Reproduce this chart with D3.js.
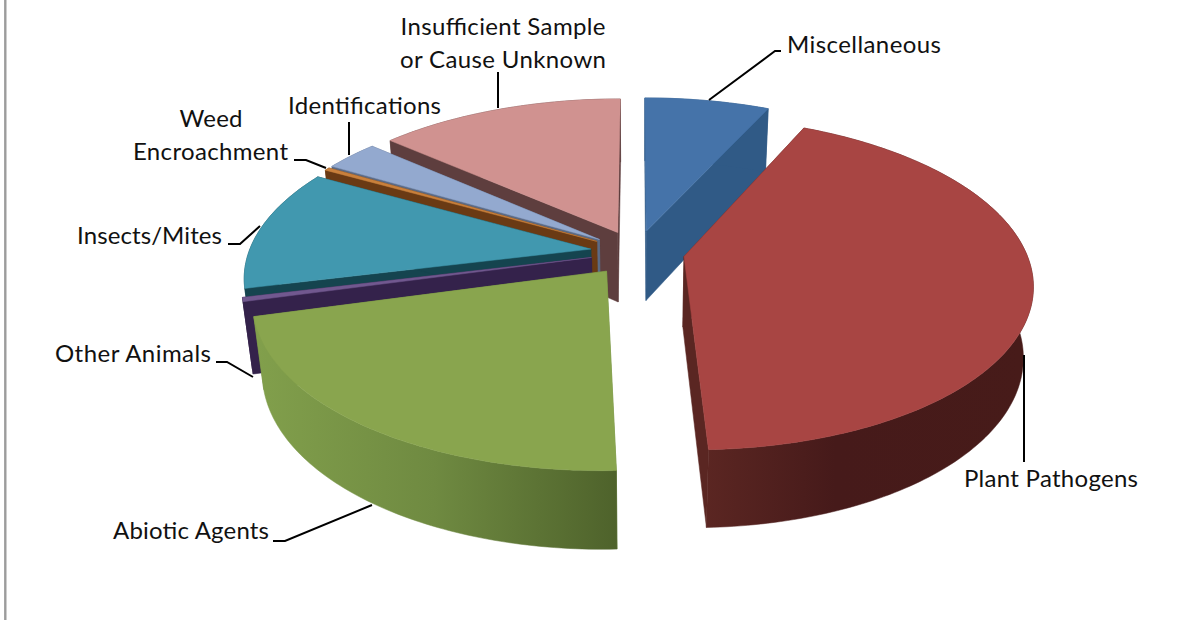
<!DOCTYPE html>
<html>
<head>
<meta charset="utf-8">
<script src="https://cdn.jsdelivr.net/npm/d3@7/dist/d3.min.js"></script>
<style>
  html, body { margin: 0; background: #fff; }
  text { font-family: Lato, "Open Sans", sans-serif; font-size: 24px; fill: #111; }
</style>
</head>
<body>
<svg id="chart" width="1178" height="620"></svg>
<script>
// Share of samples by diagnosis, percent, clockwise from twelve o'clock.
const categories = ["Miscellaneous", "Plant Pathogens", "Abiotic Agents", "Other Animals",
                    "Insects/Mites", "Weed Encroachment", "Identifications",
                    "Insufficient Sample or Cause Unknown"];
const shares = [6.9, 42.5, 21.4, 0.4, 11.9, 0.3, 3.0, 13.6];
// How far each slice is pulled away from the centre, as a fraction of the radius.
const pullOut = [0.135, 0.141, 0.145, 0.135, 0.135, 0.135, 0.135, 0.135];

const topColors  = ["#4573a9", "#a84543", "#89a54e", "#71588f", "#4198af", "#c9803c", "#93a9cf", "#d09290"];
const sideColors = ["#305a86", "#5a2622", "#6f8a40", "#34224b", "#15444f", "#6a3a14", "#5b6a85", "#5e3e3e"];

// Label lines: text, anchor x, baseline y, anchor mode, set width.
const labelLines = [
  ["Miscellaneous", 787, 53, "start", 154],
  ["Plant Pathogens", 964, 487, "start", 174],
  ["Abiotic Agents", 113, 539, "start", 156],
  ["Other Animals", 55, 362, "start", 156],
  ["Insects/Mites", 77, 244, "start", 145],
  ["Weed", 211, 127, "middle", 63],
  ["Encroachment", 133, 160, "start", 155],
  ["Identifications", 288, 114, "start", 153],
  ["Insufficient Sample", 503, 35, "middle", 205],
  ["or Cause Unknown", 503, 68, "middle", 206]
];

const leaders = [
  [[709, 100], [775, 51], [781, 51]],
  [[1024, 355], [1024, 462]],
  [[273, 541], [285, 541], [372, 505]],
  [[216, 362], [227, 362], [253, 377]],
  [[228, 244], [240, 244], [260, 226]],
  [[294, 160], [306, 160], [326, 168]],
  [[349, 122], [349, 155]],
  [[498, 72], [498, 108]]
];

// Tilted-disc camera: world x runs right, y towards the viewer, z is depth of the extrusion.
const cam = { cx: 636.5, cy: 252, f: 342, fy: 160.8, persp: 0.16, depth: 72, shrink: 0.025 };

function project(x, y, z) {
  const w = 1 - cam.persp * y + cam.shrink * z;
  return [cam.cx + cam.f * x / w, cam.cy + cam.fy * y / w + cam.depth * z / w];
}

const svg = d3.select("#chart");
const pie = d3.pie().sort(null).startAngle(0).endAngle(2 * Math.PI);
const arcs = pie(shares);
const outline = d3.line().curve(d3.curveLinear);

// Shaded gradients for the two large rim walls.
const defs = svg.append("defs");
function wallGradient(id, x1, x2, stops) {
  const g = defs.append("linearGradient").attr("id", id)
    .attr("gradientUnits", "userSpaceOnUse")
    .attr("x1", x1).attr("x2", x2).attr("y1", 0).attr("y2", 0);
  stops.forEach(s => g.append("stop").attr("offset", s[0]).attr("stop-color", s[1]));
}
wallGradient("wall-pathogens", 705, 1030, [[0, "#5b2622"], [0.4, "#461a1a"], [1, "#471b19"]]);
wallGradient("wall-abiotic", 250, 618, [[0, "#82a04c"], [0.5, "#6f8a41"], [1, "#4e622b"]]);
const wallFill = { 1: "url(#wall-pathogens)", 2: "url(#wall-abiotic)" };

const slices = arcs.map((a, i) => {
  const mid = (a.startAngle + a.endAngle) / 2;
  const ax = pullOut[i] * Math.sin(mid), ay = -pullOut[i] * Math.cos(mid);
  const steps = Math.max(2, Math.ceil((a.endAngle - a.startAngle) * 180 / Math.PI));
  const thetas = d3.range(steps + 1).map(k => a.startAngle + (a.endAngle - a.startAngle) * k / steps);
  const rim = z => thetas.map(t => project(ax + Math.sin(t), ay - Math.cos(t), z));
  return { i, mid, apexTop: project(ax, ay, 0), apexBottom: project(ax, ay, 1), rimTop: rim(0), rimBottom: rim(1) };
});

// Painter's order: slices further from the viewer go down first.
slices.sort((a, b) => Math.cos(b.mid) - Math.cos(a.mid));

const g = svg.append("g");
slices.forEach(s => {
  const side = sideColors[s.i];
  const lastTop = s.rimTop[s.rimTop.length - 1], lastBottom = s.rimBottom[s.rimBottom.length - 1];
  const poly = (pts, fill) => g.append("path")
    .attr("d", outline(pts) + "Z").attr("fill", fill).attr("stroke", fill).attr("stroke-width", 0.5);
  poly([s.apexTop, s.rimTop[0], s.rimBottom[0], s.apexBottom], side);
  poly([s.apexTop, lastTop, lastBottom, s.apexBottom], side);
  poly(s.rimTop.concat(s.rimBottom.slice().reverse()), wallFill[s.i] || side);
  poly([s.apexTop].concat(s.rimTop), topColors[s.i]);
});

// Frame line down the left edge.
svg.append("line").attr("x1", 5.3).attr("x2", 5.3).attr("y1", 0).attr("y2", 620)
  .attr("stroke", "#9c9c9c").attr("stroke-width", 2.4);

svg.append("g").selectAll("path").data(leaders).join("path")
  .attr("d", d => outline(d)).attr("fill", "none").attr("stroke", "#000").attr("stroke-width", 2);

svg.append("g").selectAll("text").data(labelLines).join("text")
  .attr("x", d => d[1]).attr("y", d => d[2]).attr("text-anchor", d => d[3])
  .attr("textLength", d => d[4]).attr("lengthAdjust", "spacing").text(d => d[0]);
</script>
</body>
</html>
